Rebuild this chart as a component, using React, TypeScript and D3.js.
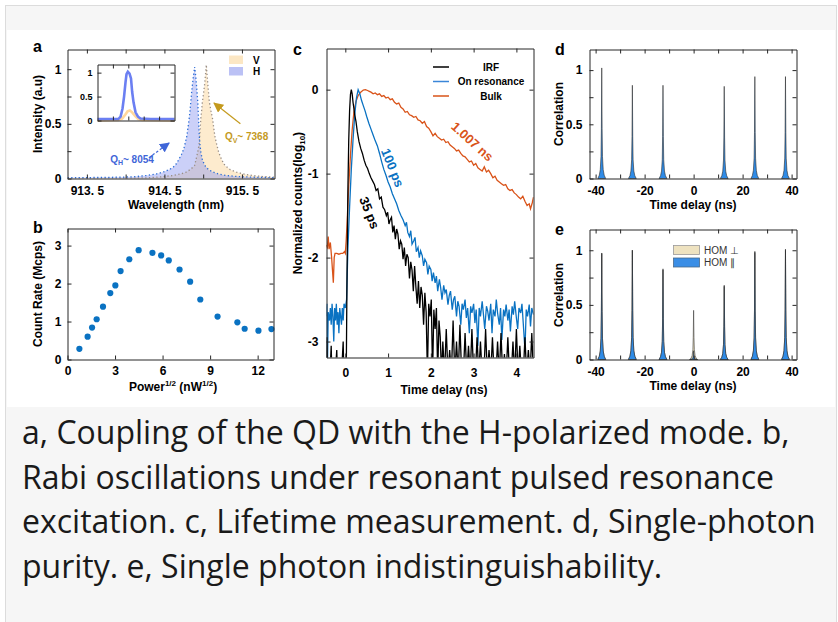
import React, { useRef, useEffect } from 'react';
import * as d3 from 'd3';

const FONT = "'Liberation Sans', Arial, Helvetica, sans-serif";

// ---- panel a: cavity spectra (wavelength nm, normalized intensity)
const specH: [number, number][] = [
  [913.25, 0.008], [913.6, 0.009], [913.92, 0.012], [914.1, 0.016], [914.27, 0.027], [914.4, 0.042],
  [914.48, 0.058], [914.55, 0.078], [914.61, 0.1], [914.66, 0.14], [914.69, 0.18], [914.72, 0.22],
  [914.75, 0.27], [914.77, 0.33], [914.79, 0.39], [914.805, 0.47], [914.82, 0.55], [914.83, 0.62],
  [914.84, 0.7], [914.85, 0.78], [914.86, 0.85], [914.875, 0.94], [914.89, 1.02], [914.905, 0.93],
  [914.92, 0.8], [914.93, 0.7], [914.94, 0.55], [914.95, 0.39], [914.96, 0.3], [914.97, 0.24],
  [914.99, 0.17], [915.02, 0.12], [915.07, 0.08], [915.13, 0.058], [915.2, 0.04], [915.3, 0.027],
  [915.45, 0.018], [915.64, 0.012], [915.8, 0.009], [915.92, 0.008]
];
const specV: [number, number][] = [
  [913.25, 0.0], [913.9, 0.002], [914.27, 0.006], [914.45, 0.015], [914.61, 0.027], [914.7, 0.04],
  [914.78, 0.058], [914.84, 0.085], [914.89, 0.12], [914.92, 0.21], [914.94, 0.28], [914.95, 0.33],
  [914.96, 0.44], [914.97, 0.55], [914.98, 0.62], [914.99, 0.7], [915.005, 0.78], [915.02, 0.87],
  [915.03, 0.95], [915.04, 1.04], [915.05, 0.95], [915.06, 0.86], [915.07, 0.78], [915.08, 0.7],
  [915.1, 0.62], [915.12, 0.55], [915.135, 0.47], [915.15, 0.39], [915.175, 0.31], [915.2, 0.24],
  [915.24, 0.17], [915.28, 0.12], [915.35, 0.08], [915.43, 0.058], [915.53, 0.04], [915.64, 0.027],
  [915.77, 0.018], [915.92, 0.012]
];
// inset (arbitrary position units 0..10)
const insetH: [number, number][] = [
  [0, 0.03], [2.7, 0.03], [3.0, 0.08], [3.25, 0.25], [3.45, 0.5], [3.64, 0.8], [3.77, 0.97], [3.94, 1.02],
  [4.16, 0.98], [4.35, 0.88], [4.5, 0.6], [4.68, 0.38], [4.94, 0.17], [5.26, 0.08], [5.58, 0.04], [6.9, 0.03], [10, 0.03]
];
const insetV: [number, number][] = [
  [0, 0.0], [2.7, 0.01], [3.2, 0.04], [3.6, 0.12], [3.9, 0.19], [4.2, 0.21], [4.5, 0.17], [4.9, 0.09],
  [5.3, 0.03], [5.8, 0.01], [10, 0.0]
];

// ---- panel b: Rabi oscillation
const rabiPower = [0.75, 1.27, 1.55, 1.84, 2.24, 2.7, 3.02, 3.35, 3.9, 4.49, 5.36, 5.91, 6.39, 7.07, 7.74, 8.38, 9.47, 10.72, 11.18, 12.05, 12.87];
const rabiCounts = [0.28, 0.6, 0.84, 1.06, 1.39, 1.75, 1.95, 2.33, 2.64, 2.88, 2.81, 2.74, 2.61, 2.37, 2.05, 1.58, 1.13, 0.98, 0.81, 0.76, 0.8];

// ---- panel c: lifetime (time ns, log10 counts)
const irfCurve: [number, number][] = [
  [-0.45, -3.5], [-0.43, -2.95], [-0.41, -3.5], [-0.37, -3.5], [-0.33, -3.05], [-0.31, -3.5], [-0.25, -3.5],
  [-0.2, -3.1], [-0.18, -3.5], [-0.1, -3.5], [-0.05, -3.0], [-0.03, -3.5], [0.02, -3.5], [0.04, -2.2],
  [0.06, -1.2], [0.08, -0.6], [0.1, -0.25], [0.12, -0.06], [0.14, 0], [0.16, -0.05], [0.18, -0.15],
  [0.2, -0.22], [0.22, -0.3], [0.25, -0.38], [0.28, -0.5], [0.32, -0.62], [0.36, -0.7], [0.4, -0.76],
  [0.44, -0.84], [0.48, -0.9], [0.52, -0.94], [0.56, -1.0], [0.6, -1.05], [0.64, -1.09], [0.68, -1.13],
  [0.72, -1.2], [0.76, -1.18], [0.8, -1.3], [0.84, -1.28], [0.88, -1.4], [0.92, -1.43], [0.96, -1.5],
  [0.99, -1.46], [1.02, -1.6], [1.05, -1.55], [1.08, -1.52], [1.11, -1.7], [1.14, -1.62], [1.17, -1.78],
  [1.2, -1.66], [1.23, -1.72], [1.26, -1.9], [1.29, -1.8], [1.32, -1.84], [1.35, -2.02], [1.38, -1.88],
  [1.41, -2.1], [1.44, -1.96], [1.47, -2.0], [1.5, -2.25], [1.53, -2.05], [1.56, -2.15], [1.59, -2.4],
  [1.62, -2.1], [1.65, -2.35], [1.68, -2.55], [1.71, -2.28], [1.74, -2.6], [1.77, -2.35], [1.8, -2.45],
  [1.83, -2.8], [1.86, -2.42], [1.89, -2.65], [1.92, -3.4], [1.95, -2.55], [1.98, -2.7], [2.01, -2.5],
  [2.04, -3.4], [2.07, -2.62], [2.1, -2.85], [2.13, -2.6], [2.16, -3.4], [2.19, -2.75], [2.22, -2.95],
  [2.25, -3.4], [2.28, -3.0], [2.32, -3.4], [2.36, -2.85], [2.4, -3.4], [2.44, -3.1], [2.48, -3.4],
  [2.52, -2.75], [2.56, -3.4], [2.6, -3.0], [2.64, -3.4], [2.68, -2.8], [2.72, -3.4], [2.76, -3.4],
  [2.8, -2.9], [2.84, -3.4], [2.88, -3.05], [2.92, -3.4], [2.96, -2.85], [3.0, -3.4], [3.04, -3.4],
  [3.08, -2.95], [3.12, -3.4], [3.16, -3.0], [3.2, -3.4], [3.24, -3.4], [3.28, -2.85], [3.32, -3.4],
  [3.36, -3.1], [3.4, -3.4], [3.44, -2.95], [3.48, -3.4], [3.52, -3.4], [3.56, -3.0], [3.6, -3.4],
  [3.64, -2.9], [3.68, -3.4], [3.72, -3.15], [3.76, -3.4], [3.8, -2.95], [3.84, -3.4], [3.88, -3.4],
  [3.92, -3.0], [3.96, -3.4], [4.0, -2.85], [4.04, -3.4], [4.08, -3.05], [4.12, -3.4], [4.16, -3.4],
  [4.2, -2.95], [4.24, -3.4], [4.28, -3.1], [4.32, -3.4], [4.36, -2.9], [4.4, -3.4]
];
const resCurve: [number, number][] = [
  [-0.45, -2.7], [-0.43, -2.55], [-0.42, -3.4], [-0.4, -2.65], [-0.37, -2.75], [-0.35, -2.6], [-0.33, -2.8],
  [-0.31, -2.55], [-0.29, -2.7], [-0.27, -3.0], [-0.25, -2.6], [-0.23, -2.75], [-0.21, -2.55], [-0.19, -2.8],
  [-0.17, -2.65], [-0.15, -2.9], [-0.13, -2.6], [-0.11, -2.7], [-0.09, -2.8], [-0.07, -2.6], [-0.05, -2.75],
  [-0.03, -2.55], [0.0, -2.6], [0.03, -2.5], [0.06, -1.9], [0.1, -1.4], [0.14, -0.95], [0.18, -0.6],
  [0.22, -0.3], [0.26, -0.1], [0.3, 0], [0.34, -0.05], [0.38, -0.13], [0.42, -0.19], [0.46, -0.25],
  [0.5, -0.32], [0.55, -0.4], [0.6, -0.47], [0.65, -0.54], [0.7, -0.61], [0.75, -0.67], [0.8, -0.76],
  [0.85, -0.86], [0.9, -0.95], [0.95, -1.02], [1.0, -1.1], [1.05, -1.16], [1.1, -1.24], [1.15, -1.3],
  [1.2, -1.36], [1.25, -1.44], [1.3, -1.5], [1.35, -1.55], [1.4, -1.62], [1.43, -1.58], [1.46, -1.7],
  [1.5, -1.75], [1.53, -1.68], [1.56, -1.84], [1.6, -1.8], [1.63, -1.76], [1.66, -1.93], [1.7, -1.88],
  [1.73, -2.0], [1.76, -1.92], [1.8, -1.98], [1.83, -2.1], [1.86, -2.02], [1.9, -2.06], [1.93, -2.2],
  [1.96, -2.1], [2.0, -2.14], [2.03, -2.28], [2.06, -2.18], [2.1, -2.3], [2.13, -2.22], [2.16, -2.4],
  [2.2, -2.26], [2.23, -2.36], [2.26, -2.5], [2.3, -2.33], [2.33, -2.42], [2.36, -2.38], [2.4, -2.56],
  [2.43, -2.45], [2.46, -2.4], [2.5, -2.62], [2.53, -2.5], [2.56, -2.46], [2.6, -2.7], [2.63, -2.52],
  [2.66, -2.58], [2.7, -2.8], [2.73, -2.55], [2.76, -2.62], [2.8, -2.5], [2.83, -2.72], [2.86, -2.6],
  [2.9, -2.9], [2.93, -2.58], [2.96, -2.66], [3.0, -2.55], [3.03, -2.78], [3.06, -2.62], [3.1, -3.05],
  [3.13, -2.6], [3.16, -2.7], [3.2, -2.52], [3.23, -2.68], [3.26, -2.85], [3.3, -2.58], [3.33, -2.64],
  [3.36, -2.75], [3.4, -2.55], [3.43, -2.9], [3.46, -2.62], [3.5, -2.7], [3.53, -2.5], [3.56, -2.66],
  [3.6, -2.8], [3.63, -2.6], [3.66, -2.98], [3.7, -2.62], [3.73, -2.7], [3.76, -2.56], [3.8, -2.75],
  [3.83, -2.62], [3.86, -2.88], [3.9, -2.58], [3.93, -2.68], [3.96, -2.52], [4.0, -2.72], [4.03, -2.85],
  [4.06, -2.6], [4.1, -2.66], [4.13, -2.55], [4.16, -2.78], [4.2, -3.1], [4.23, -2.62], [4.26, -2.7],
  [4.3, -2.56], [4.33, -2.82], [4.36, -2.6], [4.4, -2.68]
];
const bulkCurve: [number, number][] = [
  [-0.45, -1.85], [-0.42, -1.88], [-0.4, -1.75], [-0.38, -1.9], [-0.35, -1.82], [-0.32, -2.0], [-0.3, -2.15],
  [-0.28, -2.3], [-0.26, -2.0], [-0.24, -1.95], [-0.2, -1.95], [-0.15, -1.96], [-0.1, -1.95], [-0.06, -1.95],
  [-0.02, -1.93], [0.0, -1.95], [0.02, -1.8], [0.04, -1.6], [0.08, -1.15], [0.12, -0.78], [0.16, -0.48],
  [0.2, -0.27], [0.25, -0.14], [0.3, -0.07], [0.36, -0.03], [0.42, -0.005], [0.47, 0], [0.52, -0.01],
  [0.56, -0.02], [0.6, -0.03], [0.65, -0.05], [0.7, -0.04], [0.75, -0.06], [0.8, -0.05], [0.85, -0.08],
  [0.9, -0.07], [0.95, -0.1], [1.0, -0.09], [1.05, -0.12], [1.1, -0.11], [1.15, -0.15], [1.2, -0.17],
  [1.25, -0.16], [1.3, -0.21], [1.35, -0.23], [1.4, -0.27], [1.45, -0.26], [1.5, -0.3], [1.55, -0.31],
  [1.6, -0.33], [1.65, -0.32], [1.7, -0.36], [1.75, -0.37], [1.8, -0.4], [1.85, -0.38], [1.9, -0.44],
  [1.95, -0.46], [2.0, -0.5], [2.05, -0.55], [2.1, -0.52], [2.15, -0.56], [2.2, -0.58], [2.25, -0.6],
  [2.3, -0.59], [2.35, -0.63], [2.4, -0.62], [2.45, -0.66], [2.5, -0.68], [2.55, -0.7], [2.6, -0.73],
  [2.65, -0.72], [2.7, -0.76], [2.75, -0.79], [2.8, -0.8], [2.85, -0.83], [2.9, -0.86], [2.95, -0.85],
  [3.0, -0.9], [3.05, -0.88], [3.1, -0.93], [3.15, -0.95], [3.2, -0.97], [3.25, -0.92], [3.3, -0.98],
  [3.35, -0.96], [3.4, -1.0], [3.45, -1.05], [3.5, -1.03], [3.55, -1.08], [3.6, -1.1], [3.65, -1.12],
  [3.7, -1.14], [3.75, -1.13], [3.8, -1.18], [3.85, -1.2], [3.9, -1.19], [3.95, -1.23], [4.0, -1.25],
  [4.05, -1.28], [4.1, -1.3], [4.15, -1.27], [4.2, -1.33], [4.25, -1.38], [4.3, -1.36], [4.33, -1.42],
  [4.37, -1.35], [4.4, -1.28]
];

// ---- panels d, e: correlation peaks (ns, normalized)
const peakShape: [number, number][] = [
  [-1.6, 0], [-1.0, 0.03], [-0.6, 0.08], [-0.3, 0.2], [-0.15, 0.45], [0, 1], [0.15, 0.45], [0.3, 0.2],
  [0.6, 0.08], [1.0, 0.03], [1.6, 0]
];
const dCenters = [-37.5, -25, -12.5, 12.5, 25, 37.5];
const dHeights = [1.02, 0.86, 0.86, 0.85, 0.94, 0.94];
const eCenters = [-37.5, -25, -12.5, 0, 12.5, 25, 37.5];
const ePerp = [0.97, 1.0, 0.82, 0.45, 0.67, 0.98, 1.0];
const ePar = [0.975, 1.0, 0.83, 0.08, 0.68, 0.99, 1.01];

const captionLines = [
  'a, Coupling of the QD with the H-polarized mode. b,',
  'Rabi oscillations under resonant pulsed resonance',
  'excitation. c, Lifetime measurement. d, Single-photon',
  'purity. e, Single photon indistinguishability.'
];

type Lin = d3.ScaleLinear<number, number>;

function frame(g: any, x: Lin, y: Lin, o: any) {
  const [xl, xr] = x.range();
  const [yb, yt] = y.range();
  const blank = () => '';
  const style = (sel: any) => {
    sel.selectAll('text').attr('font-family', FONT).attr('font-size', o.fs || 12)
      .attr('font-weight', 'bold').attr('fill', '#000');
    sel.selectAll('path,line').attr('stroke', '#262626').attr('stroke-width', 1);
    sel.attr('font-family', null).attr('font-size', null);
  };
  g.append('g').attr('transform', `translate(0,${yb})`)
    .call(d3.axisBottom(x).tickValues(o.xTicks).tickSizeInner(-4).tickSizeOuter(0)
      .tickPadding(o.xPad ?? 8).tickFormat(o.xFmt || blank)).call(style);
  g.append('g').attr('transform', `translate(0,${yt})`)
    .call(d3.axisTop(x).tickValues(o.xTicks).tickSizeInner(-4).tickSizeOuter(0).tickFormat(blank)).call(style);
  g.append('g').attr('transform', `translate(${xl},0)`)
    .call(d3.axisLeft(y).tickValues(o.yTicks).tickSizeInner(-4).tickSizeOuter(0)
      .tickPadding(o.yPad ?? 6).tickFormat(o.yFmt || blank)).call(style);
  g.append('g').attr('transform', `translate(${xr},0)`)
    .call(d3.axisRight(y).tickValues(o.yTicks).tickSizeInner(-4).tickSizeOuter(0).tickFormat(blank)).call(style);
}

function label(g: any, txt: string, x: number, y: number, size = 12, rotate = 0, anchor = 'middle') {
  return g.append('text')
    .attr('transform', `translate(${x},${y}) rotate(${rotate})`)
    .attr('text-anchor', anchor)
    .attr('font-family', FONT).attr('font-weight', 'bold').attr('font-size', size)
    .attr('fill', '#000').text(txt);
}

function clip(defs: any, id: string, x: Lin, y: Lin) {
  const [xl, xr] = x.range();
  const [yb, yt] = y.range();
  defs.append('clipPath').attr('id', id).append('rect')
    .attr('x', xl).attr('y', yt).attr('width', xr - xl).attr('height', yb - yt);
}

export default function App() {
  const ref = useRef<SVGSVGElement>(null);

  useEffect(() => {
    if (!ref.current) return;
    const svg = d3.select(ref.current);
    svg.selectAll('*').remove();
    const defs = svg.append('defs');

    // page background and figure area
    svg.append('rect').attr('x', 5.5).attr('y', 5.5).attr('width', 831).attr('height', 640)
      .attr('fill', '#f6f6f6').attr('stroke', '#dcdcdc');
    svg.append('rect').attr('x', 7).attr('y', 30).attr('width', 828).attr('height', 377).attr('fill', '#fff');

    const fmt1 = (d: any) => String(d);

    // ================= panel a =================
    const xA = d3.scaleLinear().domain([913.25, 915.92]).range([67.5, 274.5]);
    const yA = d3.scaleLinear().domain([0, 1.18]).range([178.5, 49.5]);
    const gA = svg.append('g');
    clip(defs, 'clipA', xA, yA);
    const pA = gA.append('g').attr('clip-path', 'url(#clipA)');
    const areaA = d3.area<[number, number]>().x(d => xA(d[0])).y0(yA(0)).y1(d => yA(d[1]));
    const lineA = d3.line<[number, number]>().x(d => xA(d[0])).y(d => yA(d[1]));
    pA.append('path').datum(specV).attr('d', areaA).attr('fill', 'rgba(252,228,190,0.75)');
    pA.append('path').datum(specH).attr('d', areaA).attr('fill', 'rgba(140,150,240,0.45)');
    pA.append('path').datum(specV).attr('d', lineA).attr('fill', 'none')
      .attr('stroke', '#9a8f86').attr('stroke-width', 1.3).attr('stroke-dasharray', '1.3 2.4');
    pA.append('path').datum(specH).attr('d', lineA).attr('fill', 'none')
      .attr('stroke', '#2f6fd6').attr('stroke-width', 1.3).attr('stroke-dasharray', '1.3 2.4');
    frame(gA, xA, yA, {
      xTicks: [913.5, 914, 914.5, 915, 915.5],
      xFmt: (d: number) => ([913.5, 914.5, 915.5].includes(d) ? d.toFixed(1).replace('.', '. ') : ''),
      yTicks: [0, 0.25, 0.5, 0.75, 1],
      yFmt: (d: number) => ([0, 0.5, 1].includes(d) ? fmt1(d) : ''),
      xPad: 8
    });

    // inset
    const xI = d3.scaleLinear().domain([0, 10]).range([97.5, 174.5]);
    const yI = d3.scaleLinear().domain([0, 1.17]).range([120.5, 64.5]);
    gA.append('rect').attr('x', 97.5).attr('y', 64.5).attr('width', 77).attr('height', 56).attr('fill', '#fff');
    const lineI = d3.line<[number, number]>().x(d => xI(d[0])).y(d => yI(d[1]));
    gA.append('path').datum(insetV).attr('d', lineI).attr('fill', 'none').attr('stroke', '#ffd79c').attr('stroke-width', 2.6);
    gA.append('path').datum(insetH).attr('d', lineI).attr('fill', 'none').attr('stroke', '#6b7ff2').attr('stroke-width', 2.6);
    frame(gA, xI, yI, {
      xTicks: [2, 4, 6, 8], yTicks: [0, 0.5, 1],
      yFmt: (d: number) => fmt1(d), yPad: 5, fs: 9
    });

    // legend a
    [['V', 'rgba(252,228,190,0.9)', 0], ['H', 'rgba(170,178,243,0.8)', 1]].forEach(([t, c, i]: any) => {
      gA.append('rect').attr('x', 229).attr('y', 55.5 + i * 11.5).attr('width', 14).attr('height', 8.5).attr('fill', c);
      label(gA, t, 253, 63.5 + i * 11.5, 10, 0, 'start');
    });

    // annotations a
    const arrow = (id: string, color: string) => {
      defs.append('marker').attr('id', id).attr('viewBox', '0 0 10 10').attr('refX', 9).attr('refY', 5)
        .attr('markerWidth', 10).attr('markerHeight', 10).attr('markerUnits', 'userSpaceOnUse').attr('orient', 'auto')
        .append('path').attr('d', 'M0,0 L10,5 L0,10 z').attr('fill', color);
    };
    arrow('arrV', '#c49a1e');
    arrow('arrH', '#3f66d8');
    gA.append('line').attr('x1', xA(915.48)).attr('y1', yA(0.5)).attr('x2', xA(915.14)).attr('y2', yA(0.69))
      .attr('stroke', '#c49a1e').attr('stroke-width', 1.2).attr('marker-end', 'url(#arrV)');
    gA.append('line').attr('x1', xA(914.3)).attr('y1', yA(0.19)).attr('x2', xA(914.56)).attr('y2', yA(0.325))
      .attr('stroke', '#3f66d8').attr('stroke-width', 1.2).attr('stroke-dasharray', '2.5 2').attr('marker-end', 'url(#arrH)');
    const qText = (sub: string, val: string, x: number, y: number, color: string) => {
      const t = gA.append('text').attr('x', x).attr('y', y).attr('font-family', FONT).attr('font-weight', 'bold')
        .attr('font-size', 10).attr('fill', color);
      t.append('tspan').text('Q');
      t.append('tspan').attr('font-size', 7).attr('dy', 2.5).text(sub);
      t.append('tspan').attr('dy', -2.5).text('~ ' + val);
    };
    qText('V', '7368', xA(915.28), yA(0.35), '#c49a1e');
    qText('H', '8054', xA(913.8), yA(0.146), '#3f66d8');

    label(gA, 'a', 33, 52, 16, 0, 'start');
    label(gA, 'Intensity (a.u)', 42, 114, 12, -90);
    label(gA, 'Wavelength (nm)', 176, 209, 12);

    // ================= panel b =================
    const xB = d3.scaleLinear().domain([0, 13]).range([67.5, 273.5]);
    const yB = d3.scaleLinear().domain([0, 3.45]).range([359.5, 228.5]);
    const gB = svg.append('g');
    gB.selectAll('circle').data(rabiPower).join('circle')
      .attr('cx', d => xB(d)).attr('cy', (d, i) => yB(rabiCounts[i])).attr('r', 3.1).attr('fill', '#0a72c2');
    frame(gB, xB, yB, {
      xTicks: [0, 3, 6, 9, 12], xFmt: fmt1, yTicks: [0, 1, 2, 3], yFmt: fmt1, xPad: 7
    });
    label(gB, 'b', 33, 233, 16, 0, 'start');
    label(gB, 'Count Rate (Mcps)', 42, 294, 12, -90);
    const tb = label(gB, '', 173, 391, 12);
    tb.append('tspan').text('Power');
    tb.append('tspan').attr('font-size', 8).attr('dy', -5).text('1/2');
    tb.append('tspan').attr('dy', 5).text(' (nW');
    tb.append('tspan').attr('font-size', 8).attr('dy', -5).text('1/2');
    tb.append('tspan').attr('dy', 5).text(')');

    // ================= panel c =================
    const xC = d3.scaleLinear().domain([-0.44, 4.4]).range([326.5, 533.5]);
    const yC = d3.scaleLinear().domain([-3.19, 0.49]).range([357.5, 48.5]);
    const gC = svg.append('g');
    clip(defs, 'clipC', xC, yC);
    const pC = gC.append('g').attr('clip-path', 'url(#clipC)');
    const lineC = d3.line<[number, number]>().x(d => xC(d[0])).y(d => yC(d[1]));
    const cColors = { irf: '#000000', res: '#0a72c2', bulk: '#d95319' };
    pC.append('path').datum(bulkCurve).attr('d', lineC).attr('fill', 'none').attr('stroke', cColors.bulk).attr('stroke-width', 1.3);
    pC.append('path').datum(resCurve).attr('d', lineC).attr('fill', 'none').attr('stroke', cColors.res).attr('stroke-width', 1.3);
    pC.append('path').datum(irfCurve).attr('d', lineC).attr('fill', 'none').attr('stroke', cColors.irf).attr('stroke-width', 1.3);
    frame(gC, xC, yC, {
      xTicks: [0, 1, 2, 3, 4], xFmt: fmt1, yTicks: [-3, -2, -1, 0], yFmt: fmt1, xPad: 11, yPad: 8
    });
    [['IRF', cColors.irf], ['On resonance', '#3a86d8'], ['Bulk', cColors.bulk]].forEach(([t, c], i) => {
      const yy = 67 + i * 14.5;
      gC.append('line').attr('x1', 433).attr('x2', 449).attr('y1', yy).attr('y2', yy).attr('stroke', c).attr('stroke-width', 1.5);
      label(gC, t, 491, yy + 3.5, 10);
    });
    label(gC, '1.007 ns', 472, 142, 13, 42).attr('fill', cColors.bulk).attr('dy', 4);
    label(gC, '100 ps', 392, 168, 13, 68).attr('fill', cColors.res).attr('dy', 4);
    label(gC, '35 ps', 369, 213, 13, 68).attr('fill', '#000').attr('dy', 4);
    label(gC, 'c', 293, 55, 16, 0, 'start');
    const tc = label(gC, '', 302, 203, 12, -90);
    tc.append('tspan').text('Normalized counts(log');
    tc.append('tspan').attr('font-size', 8).attr('dy', 3).text('10');
    tc.append('tspan').attr('dy', -3).text(')');
    label(gC, 'Time delay (ns)', 444, 394, 12);

    // ================= panels d, e =================
    const peakArea = (x: Lin, y: Lin) =>
      d3.area<[number, number]>().x(d => x(d[0])).y0(y(0)).y1(d => y(d[1]));
    const peakPts = (c: number, h: number): [number, number][] => peakShape.map(([dx, r]) => [c + dx, r * h]);

    const xD = d3.scaleLinear().domain([-42.5, 42]).range([589.5, 796.5]);
    const yD = d3.scaleLinear().domain([0, 1.19]).range([178.5, 49.5]);
    const gD = svg.append('g');
    dCenters.forEach((c, i) => {
      gD.append('path').datum(peakPts(c, dHeights[i])).attr('d', peakArea(xD, yD))
        .attr('fill', '#2f8be6').attr('stroke', '#2b2b2b').attr('stroke-width', 0.6);
    });
    const dFrame = {
      xTicks: [-40, -30, -20, -10, 0, 10, 20, 30, 40],
      xFmt: (d: number) => (d % 20 === 0 ? fmt1(d) : ''),
      yTicks: [0, 0.25, 0.5, 0.75, 1],
      yFmt: (d: number) => ([0, 0.5, 1].includes(d) ? fmt1(d) : ''),
      xPad: 8, yPad: 7
    };
    frame(gD, xD, yD, dFrame);
    label(gD, 'd', 555, 55, 16, 0, 'start');
    label(gD, 'Correlation', 563, 114, 12, -90);
    label(gD, 'Time delay (ns)', 693, 209, 12);

    const yE = d3.scaleLinear().domain([0, 1.19]).range([359.5, 229.5]);
    const gE = svg.append('g');
    eCenters.forEach((c, i) => {
      gE.append('path').datum(peakPts(c, ePerp[i])).attr('d', peakArea(xD, yE))
        .attr('fill', '#eee2c0').attr('stroke', '#3a3a3a').attr('stroke-width', 0.6);
    });
    eCenters.forEach((c, i) => {
      gE.append('path').datum(peakPts(c, ePar[i])).attr('d', peakArea(xD, yE))
        .attr('fill', '#2f8be6').attr('stroke', '#2b2b2b').attr('stroke-width', 0.6);
    });
    frame(gE, xD, yE, dFrame);
    [['HOM \u22A5', '#eee2c0', '#9a9a9a'], ['HOM \u2225', '#3a8ee6', '#4a6a8a']].forEach(([t, c, s], i) => {
      gE.append('rect').attr('x', 673.5).attr('y', 245.5 + i * 12.5).attr('width', 26).attr('height', 9)
        .attr('fill', c).attr('stroke', s).attr('stroke-width', 0.8);
      gE.append('text').attr('x', 704).attr('y', 253.5 + i * 12.5).attr('font-family', FONT)
        .attr('font-size', 10).attr('fill', '#333').text(t);
    });
    label(gE, 'e', 555, 235, 16, 0, 'start');
    label(gE, 'Correlation', 563, 295, 12, -90);
    label(gE, 'Time delay (ns)', 693, 390, 12);

    // ================= caption =================
    captionLines.forEach((t, i) => {
      svg.append('text').attr('x', 22).attr('y', 444 + i * 44.5)
        .attr('font-family', "'Open Sans', 'Noto Sans', sans-serif").attr('font-size', 32)
        .attr('fill', '#1a1a1a').text(t);
    });
  }, []);

  return (
    <svg
      ref={ref}
      width={838}
      height={622}
      style={{ position: 'absolute', left: 0, top: 0, display: 'block' }}
    />
  );
}
